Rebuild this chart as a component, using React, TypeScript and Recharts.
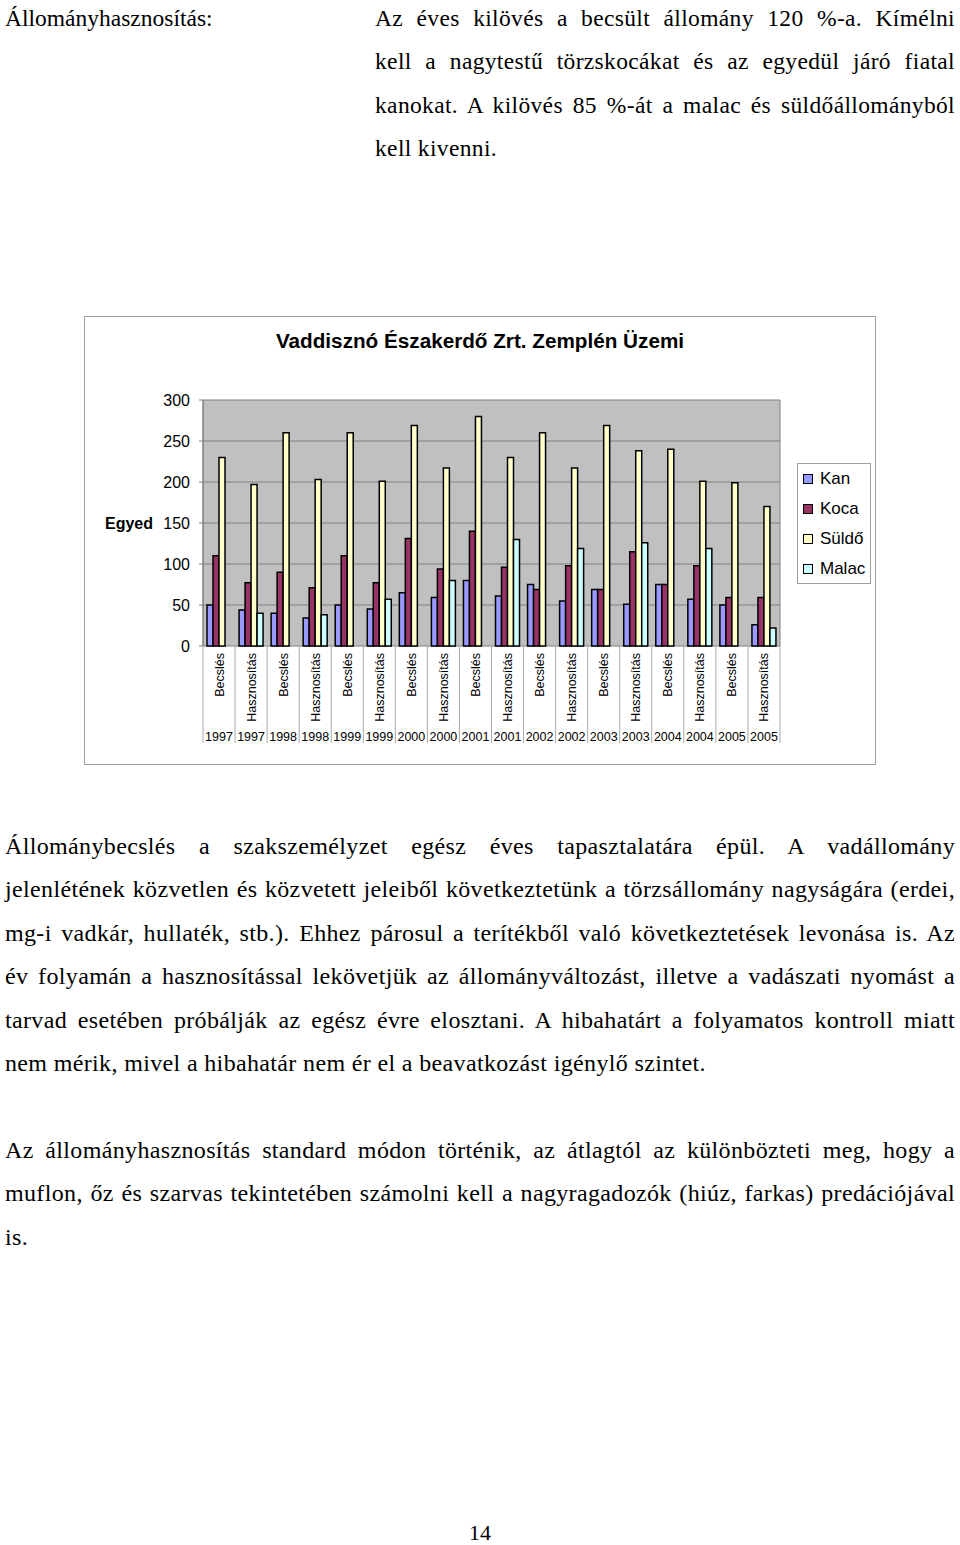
import { BarChart, Bar, XAxis, YAxis, CartesianGrid } from "recharts";

// kategóriák (kétszintű tengely)
const KINDS = [
  "Becslés", "Hasznosítás", "Becslés", "Hasznosítás", "Becslés", "Hasznosítás",
  "Becslés", "Hasznosítás", "Becslés", "Hasznosítás", "Becslés", "Hasznosítás",
  "Becslés", "Hasznosítás", "Becslés", "Hasznosítás", "Becslés", "Hasznosítás",
];
const YEARS = [
  "1997", "1997", "1998", "1998", "1999", "1999", "2000", "2000", "2001",
  "2001", "2002", "2002", "2003", "2003", "2004", "2004", "2005", "2005",
];

const KAN = [50, 44, 40, 34, 50, 45, 65, 59, 80, 61, 75, 55, 69, 51, 75, 57, 50, 26];
const KOCA = [110, 77, 90, 71, 110, 77, 131, 94, 140, 96, 69, 98, 69, 115, 75, 98, 59, 59];
const SULDO = [230, 197, 260, 203, 260, 201, 269, 217, 280, 230, 260, 217, 269, 238, 240, 201, 199, 170];
const MALAC = [null, 40, null, 38, null, 57, null, 80, null, 130, null, 119, null, 126, null, 119, null, 22];

const Y_TICKS = [0, 50, 100, 150, 200, 250, 300];

const SERIES = [
  { key: "kan", name: "Kan", color: "#9999ff" },
  { key: "koca", name: "Koca", color: "#993366" },
  { key: "suldo", name: "Süldő", color: "#ffffcc" },
  { key: "malac", name: "Malac", color: "#ccffff" },
];

const TOP_LINES = [
  "Az éves kilövés a becsült állomány 120 %-a. Kímélni",
  "kell a nagytestű törzskocákat és az egyedül járó fiatal",
  "kanokat. A kilövés 85 %-át a malac és süldőállományból",
  "kell kivenni.",
];

const PARA1 = [
  "Állománybecslés a szakszemélyzet egész éves tapasztalatára épül. A vadállomány",
  "jelenlétének közvetlen és közvetett jeleiből következtetünk a törzsállomány nagyságára (erdei,",
  "mg-i vadkár, hullaték, stb.). Ehhez párosul a terítékből való következtetések levonása is. Az",
  "év folyamán a hasznosítással lekövetjük az állományváltozást, illetve a vadászati nyomást a",
  "tarvad esetében próbálják az egész évre elosztani. A hibahatárt a folyamatos kontroll miatt",
  "nem mérik, mivel a hibahatár nem ér el a beavatkozást igénylő szintet.",
];

const PARA2 = [
  "Az állományhasznosítás standard módon történik, az átlagtól az különbözteti meg, hogy a",
  "muflon, őz és szarvas tekintetében számolni kell a nagyragadozók (hiúz, farkas) predációjával",
  "is.",
];

const chartData = KINDS.map((k, i) => ({
  cat: `${k} ${YEARS[i]}`,
  kan: KAN[i],
  koca: KOCA[i],
  suldo: SULDO[i],
  malac: MALAC[i],
}));

const CHART_W = 792;
const CHART_H = 449;
const MARGIN = { top: 84, right: 96, bottom: 22, left: 0 };
const Y_W = 119;
const PLOT_W = CHART_W - MARGIN.right - Y_W;
const SANS = "'Liberation Sans', Arial, sans-serif";
const SERIF = "'Liberation Serif', 'Times New Roman', serif";

function CategoryTick(props: any) {
  const { x, y, index } = props;
  const band = PLOT_W / KINDS.length;
  const left = x - band / 2;
  return (
    <g>
      <line x1={left} y1={y} x2={left} y2={y + 97} stroke="#a8a8a8" />
      {index === KINDS.length - 1 && (
        <line x1={left + band} y1={y} x2={left + band} y2={y + 97} stroke="#a8a8a8" />
      )}
      <text
        transform={`translate(${x + 4.5},${y + 7}) rotate(-90)`}
        textAnchor="end"
        fontSize={12.5}
        fontFamily={SANS}
        fill="#000"
      >
        {KINDS[index]}
      </text>
      <text x={x} y={y + 95} textAnchor="middle" fontSize={12.5} fontFamily={SANS} fill="#000">
        {YEARS[index]}
      </text>
    </g>
  );
}

function TextLine({ text, top, left, width, size, justify, spacing = 0.35 }: any) {
  return (
    <div
      style={{
        position: "absolute",
        left,
        top,
        width,
        height: 44,
        lineHeight: "44px",
        fontSize: size,
        fontFamily: SERIF,
        letterSpacing: spacing,
        whiteSpace: "nowrap",
        textAlign: justify ? "justify" : "left",
        textAlignLast: justify ? "justify" : "left",
        color: "#000",
      }}
    >
      {text}
    </div>
  );
}

export default function App() {
  const topCenters = [18, 61, 105, 148];
  const p1Centers = [846, 889, 933, 976, 1020, 1063];
  const p2Centers = [1150, 1193, 1237];
  return (
    <div style={{ position: "absolute", left: 0, top: 0, width: 960, height: 1545, background: "#fff" }}>
      <TextLine text="Állományhasznosítás:" top={18 - 22} left={5} width={300} size={23.5} spacing={0} />
      {TOP_LINES.map((t, i) => (
        <TextLine key={i} text={t} top={topCenters[i] - 22} left={375} width={580} size={23.5} justify={i < TOP_LINES.length - 1} />
      ))}

      {/* diagram keret */}
      <div
        style={{
          position: "absolute",
          left: 84,
          top: 316,
          width: CHART_W,
          height: CHART_H,
          border: "1px solid #a0a0a0",
          boxSizing: "border-box",
        }}
      />
      <div
        style={{
          position: "absolute",
          left: 84,
          top: 316 + 10,
          width: CHART_W,
          textAlign: "center",
          fontFamily: SANS,
          fontWeight: "bold",
          fontSize: 20.7,
          lineHeight: "30px",
        }}
      >
        Vaddisznó Északerdő Zrt. Zemplén Üzemi
      </div>
      <div style={{ position: "absolute", left: 84, top: 316 }}>
        <BarChart
          width={CHART_W}
          height={CHART_H}
          data={chartData}
          margin={MARGIN}
          barCategoryGap="12.5%"
          barGap={0}
        >
          <CartesianGrid
            fill="#c0c0c0"
            stroke="#808080"
            verticalCoordinatesGenerator={() => [Y_W, Y_W + PLOT_W]}
          />
          <XAxis
            dataKey="cat"
            height={97}
            interval={0}
            tickLine={false}
            axisLine={false}
            tickSize={0}
            tickMargin={0}
            tick={<CategoryTick />}
          />
          <YAxis
            width={Y_W}
            domain={[0, 300]}
            ticks={Y_TICKS}
            tickSize={4}
            tickMargin={9}
            axisLine={{ stroke: "#808080" }}
            tickLine={{ stroke: "#808080" }}
            tick={{ fontSize: 16, fill: "#000", fontFamily: SANS }}
            label={{
              value: "Egyed",
              position: "insideLeft",
              offset: 21,
              style: { fontSize: 16, fontWeight: "bold", fill: "#000", fontFamily: SANS },
            }}
          />
          {SERIES.map((s) => (
            <Bar
              key={s.key}
              dataKey={s.key}
              name={s.name}
              fill={s.color}
              stroke="#000"
              strokeWidth={1.5}
              isAnimationActive={false}
            />
          ))}
        </BarChart>
      </div>

      {/* jelmagyarázat */}
      <div
        style={{
          position: "absolute",
          left: 797,
          top: 463,
          width: 74,
          height: 121,
          border: "1px solid #a0a0a0",
          boxSizing: "border-box",
          background: "#fff",
        }}
      >
        {SERIES.map((s, i) => (
          <div
            key={s.key}
            style={{
              position: "absolute",
              left: 5,
              top: 15 + i * 30 - 12,
              height: 24,
              display: "flex",
              alignItems: "center",
              fontFamily: SANS,
              fontSize: 17,
            }}
          >
            <span
              style={{
                display: "inline-block",
                width: 8,
                height: 8,
                background: s.color,
                border: "1px solid #000",
                marginRight: 7,
              }}
            />
            {s.name}
          </div>
        ))}
      </div>

      {PARA1.map((t, i) => (
        <TextLine key={i} text={t} top={p1Centers[i] - 22} left={5} width={950} size={24} justify={i < PARA1.length - 1} />
      ))}
      {PARA2.map((t, i) => (
        <TextLine key={i} text={t} top={p2Centers[i] - 22} left={5} width={950} size={24} justify={i < PARA2.length - 1} />
      ))}
      <div
        style={{
          position: "absolute",
          left: 0,
          width: 960,
          top: 1533 - 15,
          textAlign: "center",
          fontFamily: SERIF,
          fontSize: 22,
          lineHeight: "30px",
        }}
      >
        14
      </div>
    </div>
  );
}
